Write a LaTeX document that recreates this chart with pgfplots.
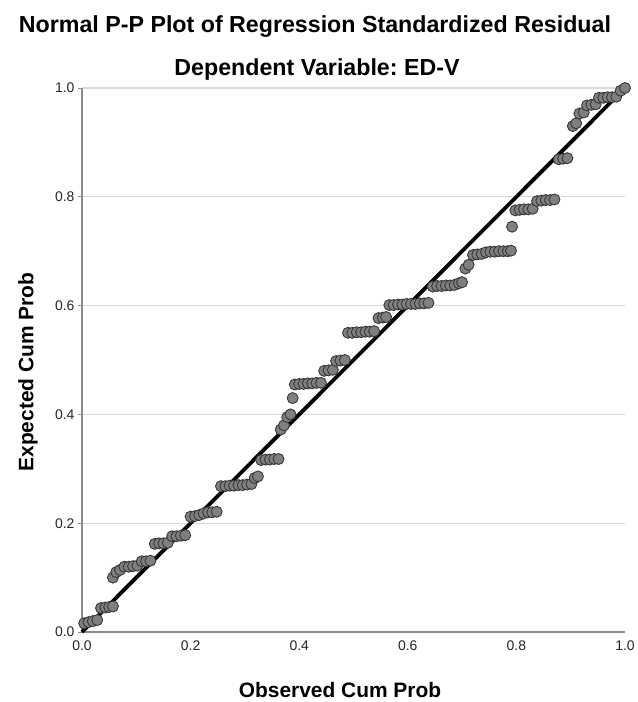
\documentclass[border=0pt]{standalone}
\usepackage{pgfplots}
\pgfplotsset{compat=1.18}
\usepackage{pgfplotstable}
\usepackage{fontspec}
\setmainfont{Liberation Sans}
\frenchspacing
\definecolor{gridgray}{HTML}{D9D9D9}
\definecolor{axgray}{HTML}{8C8C8C}
\definecolor{mfill}{HTML}{7F7F7F}
\definecolor{medge}{HTML}{383838}
\pgfplotstableread{
x y
0.004 0.016
0.012 0.018
0.020 0.020
0.028 0.022
0.035 0.044
0.043 0.045
0.050 0.046
0.057 0.047
0.057 0.100
0.063 0.110
0.070 0.114
0.078 0.120
0.086 0.120
0.094 0.121
0.102 0.122
0.110 0.130
0.118 0.130
0.126 0.131
0.134 0.162
0.142 0.163
0.150 0.163
0.158 0.164
0.166 0.176
0.174 0.176
0.182 0.177
0.190 0.178
0.200 0.212
0.208 0.213
0.216 0.215
0.224 0.218
0.232 0.220
0.240 0.220
0.248 0.221
0.256 0.268
0.264 0.268
0.272 0.269
0.280 0.269
0.288 0.270
0.296 0.270
0.304 0.271
0.312 0.272
0.318 0.283
0.324 0.286
0.330 0.316
0.338 0.317
0.346 0.317
0.354 0.318
0.362 0.318
0.366 0.372
0.372 0.380
0.378 0.395
0.384 0.400
0.388 0.430
0.392 0.455
0.400 0.456
0.408 0.456
0.416 0.457
0.424 0.457
0.432 0.458
0.440 0.458
0.446 0.480
0.454 0.481
0.462 0.482
0.468 0.498
0.476 0.499
0.484 0.500
0.490 0.550
0.498 0.550
0.506 0.551
0.514 0.551
0.522 0.552
0.530 0.552
0.538 0.553
0.546 0.577
0.554 0.578
0.560 0.579
0.566 0.601
0.574 0.601
0.582 0.602
0.590 0.602
0.598 0.603
0.606 0.603
0.614 0.603
0.622 0.604
0.630 0.604
0.638 0.605
0.646 0.635
0.654 0.636
0.662 0.636
0.670 0.637
0.678 0.637
0.686 0.638
0.694 0.641
0.700 0.643
0.706 0.668
0.712 0.675
0.720 0.693
0.728 0.694
0.736 0.695
0.744 0.698
0.752 0.699
0.760 0.699
0.768 0.700
0.776 0.700
0.784 0.700
0.790 0.701
0.792 0.745
0.798 0.775
0.806 0.776
0.814 0.777
0.822 0.777
0.830 0.778
0.838 0.792
0.846 0.793
0.854 0.794
0.862 0.794
0.870 0.795
0.878 0.869
0.886 0.870
0.894 0.871
0.904 0.930
0.910 0.935
0.916 0.953
0.924 0.955
0.930 0.968
0.938 0.969
0.946 0.970
0.952 0.982
0.960 0.982
0.968 0.983
0.976 0.983
0.984 0.984
0.992 0.995
1.000 1.000
}\pts
\begin{document}
\begin{tikzpicture}
\useasboundingbox (-82bp,-70bp) rectangle (556bp,632bp);
\begin{axis}[
  at={(0,0)}, anchor=south west,
  scale only axis, width=543bp, height=544bp,
  xmin=0, xmax=1, ymin=0, ymax=1,
  axis lines*=left,
  axis line style={axgray, line width=1.2bp},
  xtick={0,0.2,0.4,0.6,0.8,1},
  ytick={0,0.2,0.4,0.6,0.8,1},
  ymajorgrids,
  grid style={gridgray, line width=1.3bp},
  tick align=outside,
  major tick length=4bp,
  xtick style={draw=none},
  ytick style={axgray, line width=0.8bp},
  tick label style={font=\fontsize{14}{15}\selectfont, text=black!85},
  xticklabel style={yshift=-1bp},
  /pgf/number format/.cd, fixed, fixed zerofill, precision=1, assume math mode=true,
  /pgfplots/.cd,
  clip=false,
]
\addplot[only marks, mark=*, mark size=5.5bp,
  mark options={fill=mfill, draw=medge, line width=0.9bp}] table[x=x, y=y] {\pts};
\addplot[black, line width=3.8bp] coordinates {(0,0) (1,1)};
\end{axis}
\node[font=\bfseries\fontsize{23.3}{26}\selectfont] at (233bp,605bp) {Normal P-P Plot of Regression Standardized Residual};
\node[font=\bfseries\fontsize{23.3}{26}\selectfont] at (235bp,562bp) {Dependent Variable: ED-V};
\node[font=\bfseries\fontsize{21}{24}\selectfont] at (258bp,-58bp) {Observed Cum Prob};
\node[font=\bfseries\fontsize{21}{24}\selectfont, rotate=90] at (-54bp,260bp) {Expected Cum Prob};
\end{tikzpicture}
\end{document}
